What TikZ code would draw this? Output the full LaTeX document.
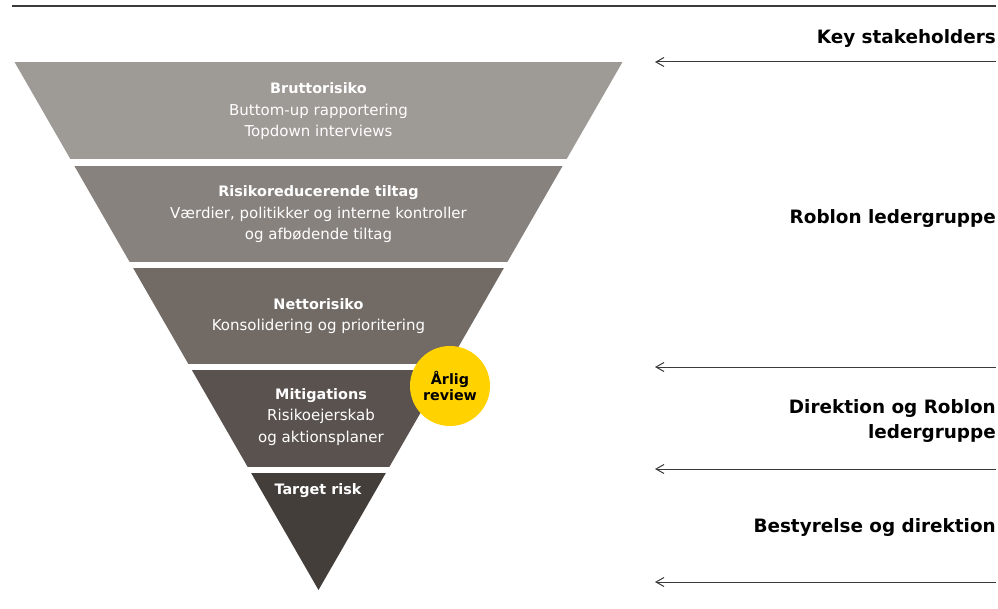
\documentclass[tikz,border=0pt]{standalone}
\usepackage{fontspec}
\setmainfont{DejaVu Sans}
\usetikzlibrary{arrows.meta}
\definecolor{bandone}{HTML}{9E9A96}
\definecolor{bandtwo}{HTML}{88827E}
\definecolor{bandthree}{HTML}{716A65}
\definecolor{bandfour}{HTML}{5A524E}
\definecolor{bandfive}{HTML}{443E3A}
\definecolor{roblonyellow}{HTML}{FFD200}
\definecolor{linegrey}{HTML}{3A3A3A}
\newcommand{\bandtitle}[1]{{\bfseries\fontsize{14.4}{21.5}\selectfont #1}}

\begin{document}
\begin{tikzpicture}[x=1pt,y=-1pt,
   bandtext/.style={text=white,align=center,font=\fontsize{15}{21.5}\selectfont},
   stake/.style={anchor=east,align=right,inner xsep=0pt,font=\bfseries\fontsize{18.4}{25}\selectfont},
   pointer/.style={draw=linegrey,line width=1pt,-{Straight Barb[length=8pt,width=9pt]}}]
   \useasboundingbox (0,0) rectangle (998,609);
   \draw[line width=1.2pt,linegrey] (12,6) -- (996,6);
   % funnel
   \begin{scope}
      \clip (14.5,62) -- (622.5,62) -- (318.5,590) -- cycle;
      \fill[bandone] (0,62) rectangle (640,159);
      \fill[bandtwo] (0,166) rectangle (640,262);
      \fill[bandthree] (0,268) rectangle (640,364);
      \fill[bandfour] (0,370) rectangle (640,467);
      \fill[bandfive] (0,473) rectangle (640,600);
   \end{scope}
   \node[bandtext] (brutto) at (318.5,111.5) {\bandtitle{Bruttorisiko}\\Buttom-up rapportering\\Topdown interviews};
   \node[bandtext] (tiltag) at (318.5,214.5) {\bandtitle{Risikoreducerende tiltag}\\Værdier, politikker og interne kontroller\\og afbødende tiltag};
   \node[bandtext] (netto) at (318.5,316) {\bandtitle{Nettorisiko}\\Konsolidering og prioritering};
   \node[bandtext] (mitig) at (321,417) {\bandtitle{Mitigations}\\Risikoejerskab\\og aktionsplaner};
   \node[bandtext] (target) at (318,491) {\bandtitle{Target risk}};
   \node[circle,fill=roblonyellow,minimum size=80pt,inner sep=0pt,align=center,
         font=\bfseries\fontsize{14.3}{16}\selectfont] (review) at (450,386) {Årlig\\review};
   % stakeholders
   \node[stake] (key) at (996,39) {Key stakeholders};
   \node[stake] (leder) at (996,218) {Roblon ledergruppe};
   \node[stake] (direk) at (996,421) {Direktion og Roblon\\ledergruppe};
   \node[stake] (bestyr) at (996,527) {Bestyrelse og direktion};
   \coordinate (fromA) at (996,62);  \coordinate (toA) at (655,62);
   \coordinate (fromB) at (996,367); \coordinate (toB) at (655,367);
   \coordinate (fromC) at (996,469); \coordinate (toC) at (655,469);
   \coordinate (fromD) at (996,582); \coordinate (toD) at (655,582);
   \draw[pointer] (fromA) -- (toA);
   \draw[pointer] (fromB) -- (toB);
   \draw[pointer] (fromC) -- (toC);
   \draw[pointer] (fromD) -- (toD);
\end{tikzpicture}
\end{document}
